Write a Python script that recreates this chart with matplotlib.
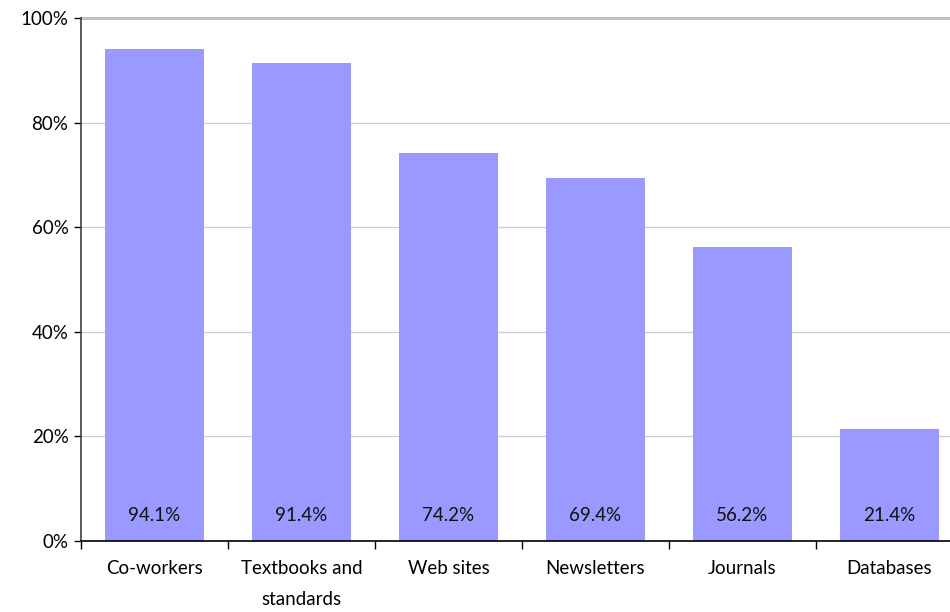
import matplotlib
matplotlib.use("Agg")
import matplotlib.pyplot as plt
import numpy as np

categories = ["Co-workers", "Textbooks and\nstandards", "Web sites", "Newsletters", "Journals", "Databases"]
values = [94.1, 91.4, 74.2, 69.4, 56.2, 21.4]
yticks = [0, 20, 40, 60, 80, 100]

plt.rcParams['font.family'] = ['Lato', 'DejaVu Sans']
FS = 13.5

fig = plt.figure(figsize=(9.5, 6.12), dpi=100)
W, H = 950, 612
left, right, top, bottom = 81, 963, 18, 541
ax = fig.add_axes([left / W, 1 - bottom / H, (right - left) / W, (bottom - top) / H])

x = np.arange(len(categories))
ax.bar(x, values, width=0.673, color="#9999FF", zorder=2)
for xi, v in zip(x, values):
    ax.text(xi, 4.8, f"{v:.1f}%", ha="center", va="center", fontsize=FS, color="#111111", zorder=3)

ax.set_xlim(-0.5, len(categories) - 0.5)
ax.set_ylim(0, 100)
ax.set_yticks(yticks)
ax.set_yticklabels([f"{t}%" for t in yticks], fontsize=FS)
ax.set_xticks(x)
ax.set_xticklabels(categories, fontsize=FS, linespacing=1.95)
ax.tick_params(axis="x", length=0, pad=14)
ax.set_xticks(np.arange(len(categories)) - 0.5, minor=True)
ax.tick_params(axis="x", which="minor", length=6, width=1, color="black", direction="out")
ax.tick_params(axis="y", length=5, width=1, color="black", direction="out", pad=4)

for t in yticks[1:-1]:
    ax.axhline(t, color="#cccccc", lw=0.9, zorder=1)
ax.axhline(100, color="#c0c0c0", lw=2.2, zorder=1, clip_on=False)

for s in ["top", "right"]:
    ax.spines[s].set_visible(False)
ax.spines["left"].set_color("#404040")
ax.spines["left"].set_linewidth(1.2)
ax.spines["bottom"].set_color("black")
ax.spines["bottom"].set_linewidth(1.2)

fig.savefig("out.png", dpi=100)
